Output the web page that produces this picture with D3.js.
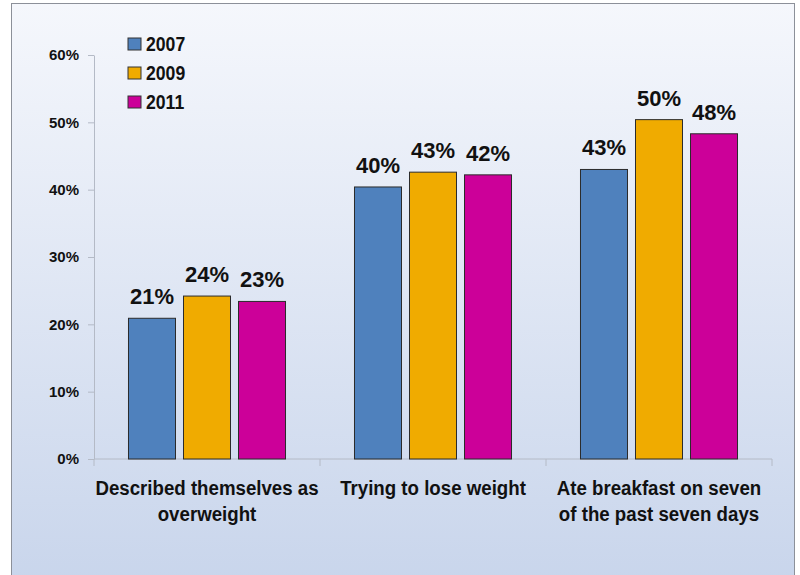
<!DOCTYPE html>
<html>
<head>
<meta charset="utf-8">
<script src="https://cdn.jsdelivr.net/npm/d3@7"></script>
<style>
  body { margin: 0; background: #fff; }
  svg { display: block; font-family: "Liberation Sans", Arial, sans-serif; font-weight: bold; }
</style>
</head>
<body>
<div id="chart"></div>
<script>
// data
const categories = ["Described themselves as|overweight", "Trying to lose weight", "Ate breakfast on seven|of the past seven days"];
const years = ["2007", "2009", "2011"];
const values2007 = [20.9, 40.4, 43.0];
const values2009 = [24.2, 42.6, 50.4];
const values2011 = [23.4, 42.2, 48.3];
const yTicks = [0, 10, 20, 30, 40, 50, 60];
const colors = ["#4f81bd", "#f0ab00", "#cc0099"];

const series = [values2007, values2009, values2011];

let width = 800, height = 575;
let margin = {top: 55, right: 28, bottom: 116, left: 94};

let svg = d3.select("#chart").append("svg")
  .attr("width", width)
  .attr("height", height);

// background gradient
let defs = svg.append("defs");
let grad = defs.append("linearGradient")
  .attr("id", "bg")
  .attr("x1", 0).attr("y1", 0).attr("x2", 0).attr("y2", 1);
grad.append("stop").attr("offset", "0%").attr("stop-color", "#f5f7fc");
grad.append("stop").attr("offset", "100%").attr("stop-color", "#c7d4eb");

svg.append("rect")
  .attr("x", 11.5).attr("y", 3.5)
  .attr("width", 783).attr("height", 600)
  .attr("fill", "url(#bg)")
  .attr("stroke", "#8c9099");

// scales
let x = d3.scaleBand()
  .domain(categories)
  .range([margin.left, width - margin.right]);

let x1 = d3.scaleBand()
  .domain(years)
  .range([0, x.bandwidth()])
  .paddingInner(0.1455)
  .paddingOuter(0.627);

let y = d3.scaleLinear()
  .domain([0, 60])
  .range([height - margin.bottom, margin.top]);

// y axis
let yAxis = d3.axisLeft(y)
  .tickValues(yTicks)
  .tickFormat(d => d + "%")
  .tickSize(6)
  .tickSizeOuter(0)
  .tickPadding(9);

let gy = svg.append("g")
  .attr("transform", "translate(" + margin.left + ",0)")
  .call(yAxis);
gy.selectAll("path, line").attr("stroke", "#b4bac6");
gy.selectAll("text")
  .attr("font-size", 15)
  .attr("font-family", "Liberation Sans, Arial, sans-serif")
  .attr("font-weight", "bold")
  .attr("fill", "#111");

// x axis line + category boundary ticks
let y0 = y(0);
svg.append("line")
  .attr("x1", x.range()[0]).attr("x2", x.range()[1])
  .attr("y1", y0).attr("y2", y0)
  .attr("stroke", "#b4bac6");

let bounds = categories.map(c => x(c)).concat([x.range()[1]]);
svg.selectAll(".xtick")
  .data(bounds)
  .join("line")
  .attr("class", "xtick")
  .attr("x1", d => d).attr("x2", d => d)
  .attr("y1", y0).attr("y2", y0 + 7)
  .attr("stroke", "#b4bac6");

// category labels (slightly condensed like the original)
let catLabels = svg.selectAll(".cat")
  .data(categories)
  .join("g")
  .attr("class", "cat")
  .attr("transform", d => "translate(" + (x(d) + x.bandwidth() / 2) + ",0) scale(0.89,1)")
  .append("text")
  .attr("text-anchor", "middle")
  .attr("font-size", 21)
  .attr("fill", "#111");
catLabels.each(function(d) {
  let t = d3.select(this);
  d.split("|").forEach((line, i) => {
    t.append("tspan")
      .attr("x", 0)
      .attr("y", 495 + i * 26)
      .text(line);
  });
});

// bars
let groups = svg.selectAll(".grp")
  .data(categories)
  .join("g")
  .attr("class", "grp")
  .attr("transform", d => "translate(" + x(d) + ",0)");

groups.selectAll("rect")
  .data((d, i) => years.map((yr, j) => ({year: yr, value: series[j][i], color: colors[j]})))
  .join("rect")
  .attr("x", d => x1(d.year))
  .attr("y", d => y(d.value))
  .attr("width", x1.bandwidth())
  .attr("height", d => y0 - y(d.value))
  .attr("fill", d => d.color)
  .attr("stroke", "#2b2b2b")
  .attr("stroke-width", 1);

groups.selectAll(".val")
  .data((d, i) => years.map((yr, j) => ({year: yr, value: series[j][i]})))
  .join("text")
  .attr("class", "val")
  .attr("x", d => x1(d.year) + x1.bandwidth() / 2)
  .attr("y", d => y(d.value) - 14)
  .attr("text-anchor", "middle")
  .attr("font-size", 22)
  .attr("fill", "#111")
  .text(d => Math.round(d.value) + "%");

// legend
let legend = svg.selectAll(".leg")
  .data(years)
  .join("g")
  .attr("class", "leg")
  .attr("transform", (d, i) => "translate(128," + (38 + i * 29) + ")");
legend.append("rect")
  .attr("width", 13).attr("height", 12)
  .attr("fill", (d, i) => colors[i])
  .attr("stroke", "#333");
legend.append("text")
  .attr("transform", "translate(18,12.5) scale(0.84,1)")
  .attr("font-size", 21)
  .attr("fill", "#111")
  .text(d => d);
</script>
</body>
</html>
